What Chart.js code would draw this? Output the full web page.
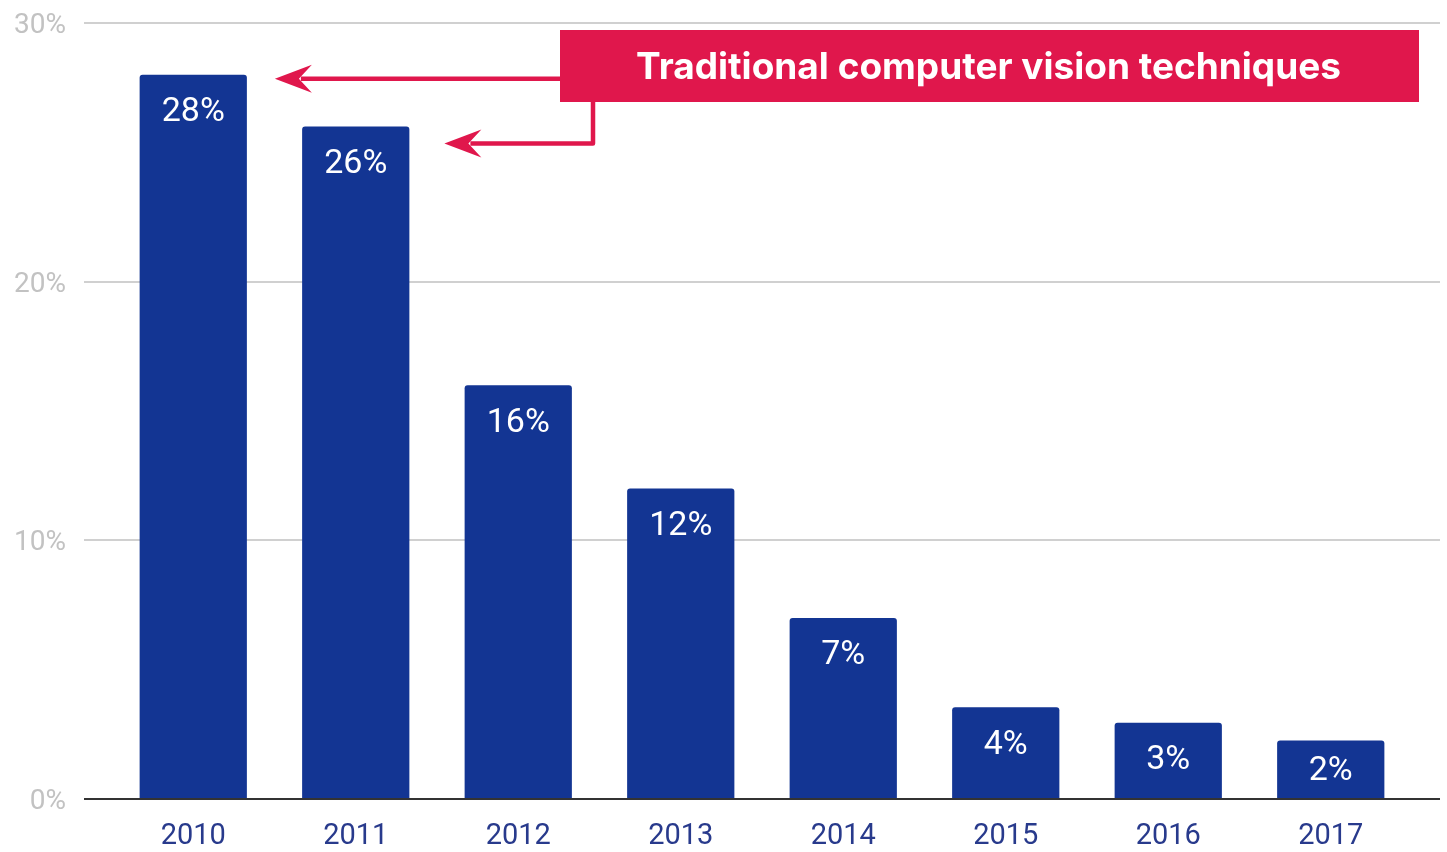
<!DOCTYPE html>
<html lang="en">
<head>
    <meta charset="UTF-8">
    <title>Traditional computer vision techniques</title>
    <style>
        html, body {
            margin: 0;
            padding: 0;
            background: #ffffff;
        }
        #chartBox {
            width: 1447px;
            height: 852px;
        }
    </style>
</head>
<body>
    <div id="chartBox">
        <canvas id="barChart"></canvas>
    </div>

    <script src="https://cdn.jsdelivr.net/npm/chart.js"></script>
    <script>
        // share of entries using traditional techniques, per year (%)
        const years = ['2010', '2011', '2012', '2013', '2014', '2015', '2016', '2017'];
        const shares = [28, 26, 16, 12, 7, 3.55, 2.95, 2.26];
        const yTicks = [0, 10, 20, 30];
        const calloutText = 'Traditional computer vision techniques';

        const barBlue = '#133593';
        const calloutRed = '#e0174c';

        // horizontal grid lines that run a bit past the plot area on both sides
        const gridLines = {
            id: 'gridLines',
            beforeDatasetsDraw(chart) {
                const { ctx, chartArea, scales } = chart;
                ctx.save();
                ctx.lineWidth = 2;
                ctx.strokeStyle = '#d0d0d0';
                yTicks.forEach(t => {
                    if (t === 0) return;
                    const y = Math.round(scales.y.getPixelForValue(t));
                    ctx.beginPath();
                    ctx.moveTo(chartArea.left - 28, y);
                    ctx.lineTo(chartArea.right + 28, y);
                    ctx.stroke();
                });
                ctx.restore();
            },
            afterDatasetsDraw(chart) {
                const { ctx, chartArea, scales } = chart;
                const y = Math.round(scales.y.getPixelForValue(0));
                ctx.save();
                ctx.lineWidth = 2;
                ctx.strokeStyle = '#333333';
                ctx.beginPath();
                ctx.moveTo(chartArea.left - 28, y);
                ctx.lineTo(chartArea.right + 28, y);
                ctx.stroke();
                ctx.restore();
            }
        };

        // white value labels inside the top of each bar
        const barLabels = {
            id: 'barLabels',
            afterDatasetsDraw(chart) {
                const { ctx } = chart;
                const meta = chart.getDatasetMeta(0);
                ctx.save();
                ctx.fillStyle = '#ffffff';
                ctx.font = '34px Roboto';
                ctx.textAlign = 'center';
                ctx.textBaseline = 'middle';
                meta.data.forEach((bar, i) => {
                    const y = Math.min(bar.y + 38, (bar.y + bar.base) / 2 + 2);
                    ctx.fillText(Math.round(shares[i]) + '%', bar.x, y);
                });
                ctx.restore();
            }
        };

        function arrowHead(ctx, x, y) {
            ctx.beginPath();
            ctx.moveTo(x, y);
            ctx.lineTo(x + 37, y - 14);
            ctx.lineTo(x + 24, y);
            ctx.lineTo(x + 37, y + 14);
            ctx.closePath();
            ctx.fill();
        }

        // red callout box with two arrows pointing at the first two bars
        const callout = {
            id: 'callout',
            afterDraw(chart) {
                const { ctx, chartArea } = chart;
                const bars = chart.getDatasetMeta(0).data;
                const boxL = chartArea.left + 448;
                const boxT = chartArea.top + 7;
                const boxR = chartArea.right + 7;
                const boxB = chartArea.top + 79;

                ctx.save();
                ctx.fillStyle = calloutRed;
                ctx.strokeStyle = calloutRed;
                ctx.lineWidth = 4.5;
                ctx.lineJoin = 'round';

                // arrow to 2010
                const b0 = bars[0];
                const x0 = b0.x + b0.width / 2 + 28;
                const y0 = b0.y + 4;
                ctx.beginPath();
                ctx.moveTo(boxL + 2, y0);
                ctx.lineTo(x0 + 26, y0);
                ctx.stroke();
                arrowHead(ctx, x0, y0);

                // elbow arrow to 2011
                const b1 = bars[1];
                const x1 = b1.x + b1.width / 2 + 35;
                const y1 = b1.y + 17;
                const elbowX = boxL + 33;
                ctx.beginPath();
                ctx.moveTo(elbowX, boxB - 2);
                ctx.lineTo(elbowX, y1);
                ctx.lineTo(x1 + 26, y1);
                ctx.stroke();
                arrowHead(ctx, x1, y1);

                ctx.fillRect(boxL, boxT, boxR - boxL, boxB - boxT);

                ctx.fillStyle = '#ffffff';
                ctx.font = 'bold 37px Inter';
                ctx.textAlign = 'center';
                ctx.textBaseline = 'middle';
                ctx.fillText(calloutText, (boxL + boxR) / 2 - 1, (boxT + boxB) / 2 + 2);
                ctx.restore();
            }
        };

        const ctx = document.getElementById('barChart').getContext('2d');
        const barChart = new Chart(ctx, {
            type: 'bar',
            data: {
                labels: years,
                datasets: [{
                    data: shares,
                    backgroundColor: barBlue,
                    borderRadius: 3,
                    borderSkipped: 'start',
                    categoryPercentage: 1,
                    barPercentage: 0.66
                }]
            },
            options: {
                responsive: true,
                maintainAspectRatio: false,
                animation: false,
                layout: {
                    padding: { top: 23, right: 35, bottom: 0, left: 0 }
                },
                plugins: {
                    legend: { display: false },
                    tooltip: { enabled: false }
                },
                scales: {
                    x: {
                        afterFit(scale) {
                            scale.height = 53;
                        },
                        grid: { display: false, drawTicks: false },
                        border: { display: false },
                        ticks: {
                            color: '#283a8c',
                            font: { family: 'Roboto', size: 29 },
                            padding: 20
                        }
                    },
                    y: {
                        min: 0,
                        max: 30,
                        afterBuildTicks(scale) {
                            scale.ticks = yTicks.map(v => ({ value: v }));
                        },
                        afterFit(scale) {
                            // the wide label gap should not push the plot down
                            scale.width = 112;
                            scale.paddingTop = 0;
                            scale.paddingBottom = 0;
                        },
                        grid: { display: false, drawTicks: false },
                        border: { display: false },
                        ticks: {
                            color: '#c2c2c2',
                            font: { family: 'Roboto', size: 28 },
                            padding: 46,
                            labelOffset: 3,
                            callback: v => v + '%'
                        }
                    }
                }
            },
            plugins: [gridLines, barLabels, callout]
        });
    </script>
</body>
</html>
